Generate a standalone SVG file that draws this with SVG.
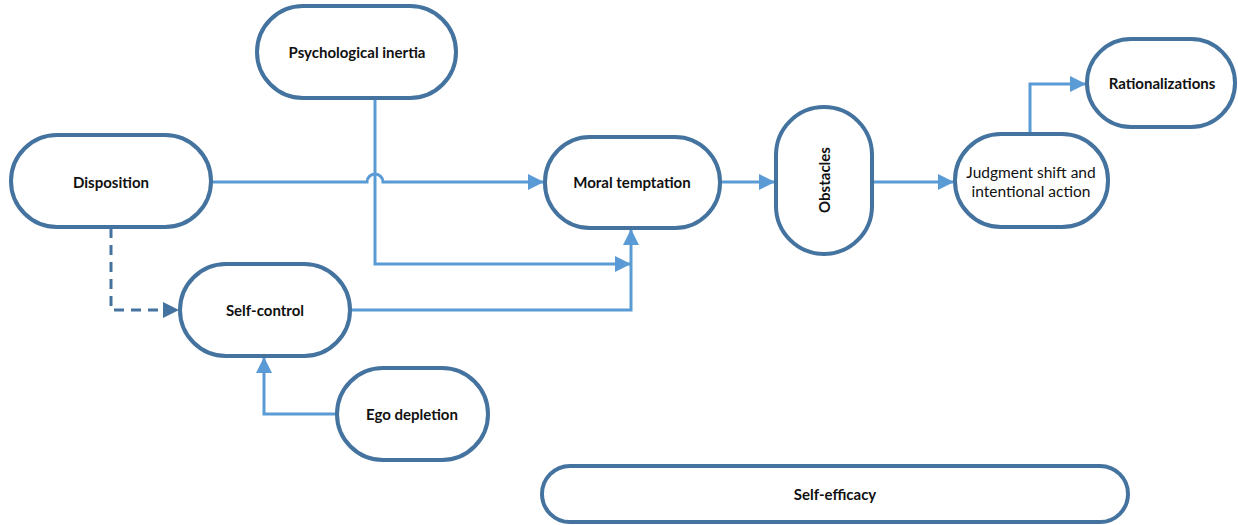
<svg xmlns="http://www.w3.org/2000/svg" width="1238" height="525" viewBox="0 0 1238 525">
<style>
.n{fill:#fff;stroke:#44739f;stroke-width:4}
.t{font-family:Lato,"Liberation Sans",sans-serif;font-size:15px;font-weight:bold;fill:#111;text-anchor:middle;dominant-baseline:central}
.r{font-weight:normal;font-size:15.5px}
.c{fill:none;stroke:#5b9bd5;stroke-width:3}
.d{fill:none;stroke:#44739f;stroke-width:3;stroke-dasharray:10 7}
</style>
<defs>
<marker id="a" markerWidth="16" markerHeight="16" refX="15" refY="8" orient="auto" markerUnits="userSpaceOnUse"><path d="M0,0 L16,8 L0,16 Z" fill="#5b9bd5"/></marker>
<marker id="ad" markerWidth="16" markerHeight="16" refX="15" refY="8" orient="auto" markerUnits="userSpaceOnUse"><path d="M0,0 L16,8 L0,16 Z" fill="#44739f"/></marker>
</defs>
<rect width="1238" height="525" fill="#fff"/>
<g id="connectors">
<path class="c" d="M212,182 H367 A8,8 0 0 1 383,182 H543" marker-end="url(#a)"/>
<path class="c" d="M375,98 V264 H630" marker-end="url(#a)"/>
<path class="c" d="M350,310 H631 V230" marker-end="url(#a)"/>
<path class="c" d="M720,182 H774" marker-end="url(#a)"/>
<path class="c" d="M872,182 H953" marker-end="url(#a)"/>
<path class="c" d="M1030,134 V84 H1085" marker-end="url(#a)"/>
<path class="c" d="M337,414 H264 V358" marker-end="url(#a)"/>
<path class="d" d="M111,228 V310 H178" marker-end="url(#ad)"/>
</g>
<g id="disposition"><rect class="n" x="11" y="135" width="200" height="92" rx="46"/><text class="t" x="111" y="182">Disposition</text></g>
<g id="psychological-inertia"><rect class="n" x="257" y="6" width="199" height="92" rx="46"/><text class="t" x="357" y="52">Psychological inertia</text></g>
<g id="moral-temptation"><rect class="n" x="545" y="137" width="175" height="91" rx="45"/><text class="t" x="632" y="182">Moral temptation</text></g>
<g id="obstacles"><rect class="n" x="776" y="107" width="96" height="147" rx="48"/><text class="t" transform="translate(824,180) rotate(-90)">Obstacles</text></g>
<g id="judgment"><rect class="n" x="955" y="134" width="153" height="93" rx="46"/><text class="t r" x="1031" y="172">Judgment shift and</text><text class="t r" x="1031" y="191">intentional action</text></g>
<g id="rationalizations"><rect class="n" x="1087" y="39" width="148" height="88" rx="44"/><text class="t" x="1162" y="83">Rationalizations</text></g>
<g id="self-control"><rect class="n" x="180" y="264" width="170" height="92" rx="46"/><text class="t" x="265" y="310">Self-control</text></g>
<g id="ego-depletion"><rect class="n" x="337" y="368" width="151" height="92" rx="46"/><text class="t" x="412" y="414">Ego depletion</text></g>
<g id="self-efficacy"><rect class="n" x="542" y="466" width="586" height="56" rx="28"/><text class="t" x="835" y="494">Self-efficacy</text></g>
</svg>
